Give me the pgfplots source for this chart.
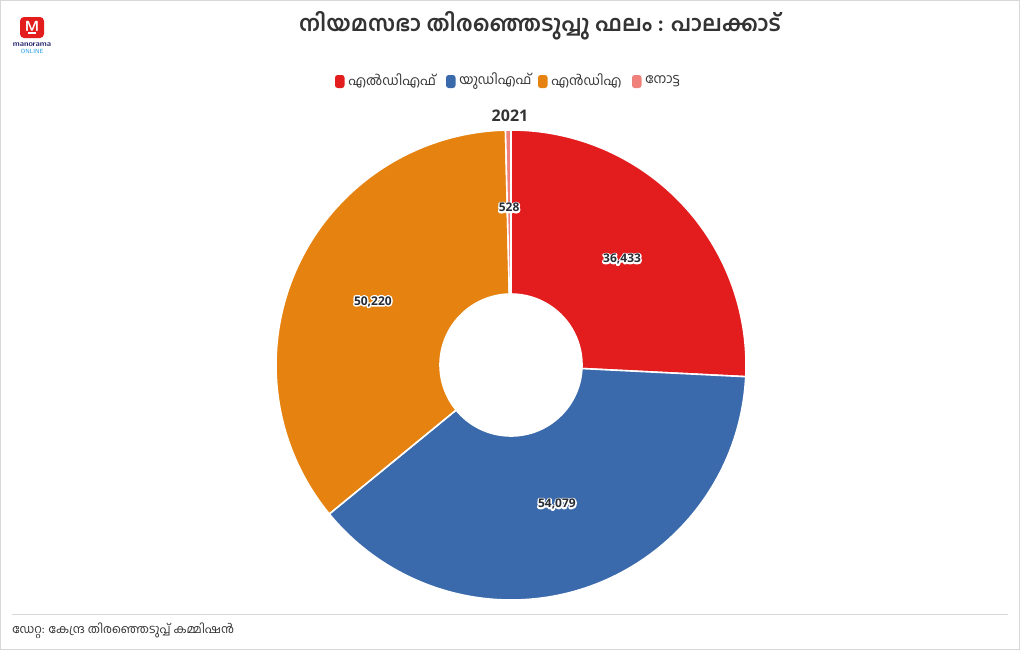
\documentclass[border=0pt]{standalone}
\usepackage{pgfplots}
\pgfplotsset{compat=1.18}
\usepackage{pgfplotstable}
\usepackage{fontspec}
\setmainfont{Open Sans}
\newfontfamily\ml[Script=Malayalam]{Hind Kochi}

\definecolor{ldf}{RGB}{227,28,29}
\definecolor{udf}{RGB}{58,106,172}
\definecolor{nda}{RGB}{229,130,16}
\definecolor{nota}{RGB}{240,128,122}
\definecolor{txt}{RGB}{51,51,51}
\definecolor{lbl}{RGB}{40,44,52}
\definecolor{frame}{RGB}{215,215,215}
\definecolor{navy}{RGB}{40,40,110}
\definecolor{sky}{RGB}{40,160,230}

% votes, Palakkad 2021
\pgfplotstableread{
party value
LDF  36433
UDF  54079
NDA  50220
NOTA 528
}\votes

\pgfplotstablegetelem{0}{value}\of\votes \let\vA\pgfplotsretval
\pgfplotstablegetelem{1}{value}\of\votes \let\vB\pgfplotsretval
\pgfplotstablegetelem{2}{value}\of\votes \let\vC\pgfplotsretval
\pgfplotstablegetelem{3}{value}\of\votes \let\vD\pgfplotsretval
\edef\tot{\fpeval{\vA+\vB+\vC+\vD}}
\edef\aA{90}
\edef\aB{\fpeval{\aA-360*\vA/\tot}}
\edef\aC{\fpeval{\aB-360*\vB/\tot}}
\edef\aD{\fpeval{\aC-360*\vC/\tot}}
\edef\aE{\fpeval{\aD-360*\vD/\tot}}
\def\Ro{176.25pt}
\def\Ri{53.25pt}

\newcommand\sector[3]{%
  \fill[#3, draw=white, line width=1.2pt, line join=round]
    (#1:\Ro) arc[start angle=#1, end angle=#2, radius=\Ro]
    -- (#2:\Ri) arc[start angle=#2, end angle=#1, radius=\Ri] -- cycle;}

% value label with a white outline drawn behind it (text render mode 1 = stroke)
\newcommand\halo[3]{% angle, radius, text
  \node[text=lbl, font=\bfseries\fontsize{9}{10}\selectfont, inner sep=1pt]
    at ([shift={(#1:#2)}]C)
    {\special{pdf:code 1 Tr 1 1 1 RG 2.2 w 1 j}#3\special{pdf:code 0 Tr 1 w}%
     \llap{#3}};}

\begin{document}
\begin{tikzpicture}[x=0.75pt, y=0.75pt]
\useasboundingbox (0,0) rectangle (1020,-650);
\fill[white] (0,0) rectangle (1020,-650);
\draw[frame, line width=0.75pt] (0.5,-0.5) rectangle (1019.5,-649.5);

\begin{axis}[
  at={(0,-650)}, anchor=south west,
  width=765pt, height=487.5pt, scale only axis,
  xmin=0, xmax=1020, ymin=-650, ymax=0,
  hide axis, clip=false]
  \coordinate (C) at (axis cs:511,-365);
  \begin{scope}[shift={(axis cs:511,-365)}]
    \sector{\aA}{\aB}{ldf}
    \sector{\aB}{\aC}{udf}
    \sector{\aC}{\aD}{nda}
    \sector{\aD}{\aE}{nota}
  \end{scope}
\end{axis}

% value labels
\halo{\fpeval{(\aA+\aB)/2}}{115pt}{36,433}
\halo{\fpeval{(\aB+\aC)/2}}{110pt}{54,079}
\halo{\fpeval{(\aC+\aD)/2}}{114pt}{50,220}
\halo{\fpeval{(\aD+\aE)/2}}{118pt}{528}

% title
\node[text=txt, font=\ml\bfseries\fontsize{16.5}{18}\selectfont] at (540,-26)
  {നിയമസഭാ തിരഞ്ഞെടുപ്പു ഫലം : പാലക്കാട്};

% legend
\foreach \x/\c in {335/ldf, 446/udf, 538/nda, 632/nota}
  \fill[\c, rounded corners=2pt] (\x,-75) rectangle ++(9.5,-13);
\begin{scope}[every node/.style={anchor=west, inner sep=0pt, text=txt,
    font=\ml\fontsize{10}{12}\selectfont}]
  \node at (348,-81) {എൽഡിഎഫ്};
  \node at (459,-81) {യുഡിഎഫ്};
  \node at (551,-81) {എൻഡിഎ};
  \node at (645,-81) {നോട്ട};
\end{scope}
\node[text=txt, font=\bfseries\fontsize{12}{14}\selectfont] at (510,-116) {2021};

% footer
\draw[frame, line width=0.75pt] (12,-614) -- (1008,-614);
\node[anchor=west, inner sep=0pt, text=txt, font=\ml\fontsize{9}{11}\selectfont]
  at (12,-631) {ഡേറ്റ: കേന്ദ്ര തിരഞ്ഞെടുപ്പ് കമ്മിഷൻ};

% logo
\fill[ldf, rounded corners=3pt] (20,-17) rectangle (44,-38);
\node[text=white, font=\sffamily\bfseries\fontsize{11}{11}\selectfont, inner sep=0pt] at (32,-26.5) {M};
\draw[white, line width=1pt] (28,-33) -- (36,-33);
\node[text=navy, font=\sffamily\bfseries\fontsize{6}{6}\selectfont, inner sep=0pt] at (32,-45) {manorama};
\node[text=sky, font=\sffamily\fontsize{4.5}{5}\selectfont, inner sep=0pt] at (32,-51.5) {ONLINE};
\end{tikzpicture}
\end{document}
